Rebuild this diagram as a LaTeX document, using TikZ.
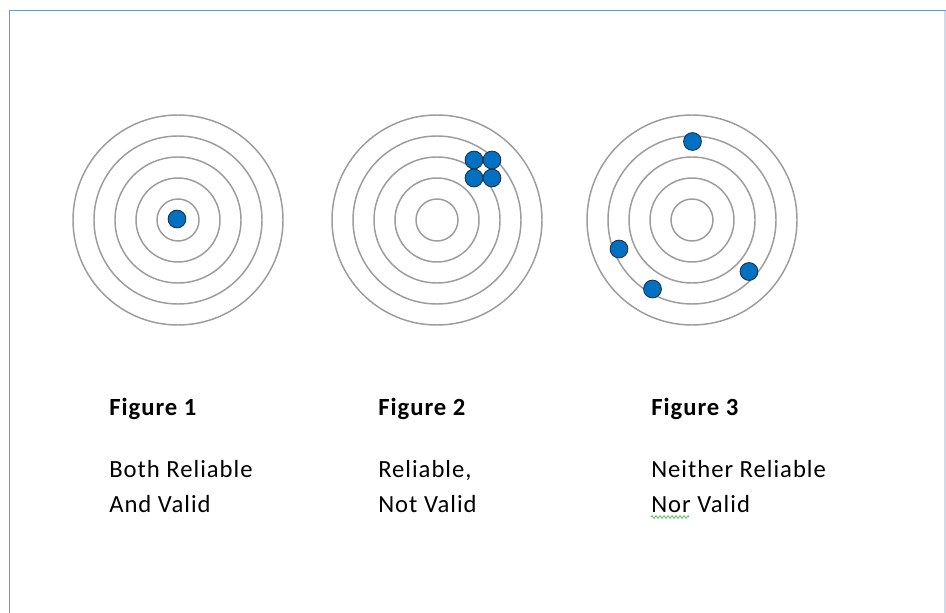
\documentclass[tikz,border=0pt]{standalone}
\usepackage{fontspec}
\setmainfont{Carlito}[LetterSpace=4]
\usepackage{tikz}
\usetikzlibrary{positioning, decorations.pathmorphing}

\definecolor{ringgray}{HTML}{9C9C9C}
\definecolor{shotblue}{HTML}{0070C0}
\definecolor{shotedge}{HTML}{1C2B3F}
\definecolor{pageblue}{HTML}{6F96CF}
\definecolor{pageedge}{HTML}{D3DAE5}
\definecolor{spellgreen}{HTML}{5DB85D}

\begin{document}
\begin{tikzpicture}[x=0.75pt, y=-0.75pt,
                ring/.style={draw=ringgray, line width=1.1pt},
                shot/.style={circle, draw=shotedge, fill=shotblue, line width=0.6pt, minimum size=13.4pt, inner sep=0pt},
                caption/.style={anchor=base west, inner sep=0pt, font=\bfseries\fontsize{18.5}{26}\selectfont},
                verdict/.style={anchor=base west, inner sep=0pt, font=\fontsize{18.5}{26}\selectfont}]

                \useasboundingbox (0,0) rectangle (946,613);

                % page frame
                \draw[pageblue, line width=1pt] (9.5,613) -- (9.5,10.5) -- (946,10.5);
                \draw[pageedge, line width=1pt] (945,11) -- (945,613);

                % target centres
                \coordinate (t1) at (178,220);
                \coordinate (t2) at (437,220);
                \coordinate (t3) at (692,220);

                % rings
                \foreach \t in {t1,t2,t3}
                    \foreach \r in {21,42,63,84,105}
                        \draw[ring] (\t) circle[radius=\r*0.75pt];

                % Figure 1 - centred shot
                \node[shot] (s11) at (177,219) {};

                % Figure 2 - tight group off centre
                \node[shot] (s21) at (474,160) {};
                \node[shot] (s22) at (492,160) {};
                \node[shot] (s23) at (474,178) {};
                \node[shot] (s24) at (492,178) {};

                % Figure 3 - scattered shots
                \node[shot] (s31) at (692.5,141.5) {};
                \node[shot] (s32) at (619,249) {};
                \node[shot] (s33) at (652.5,289) {};
                \node[shot] (s34) at (749,271.5) {};

                % captions
                \node[caption] (cap1) at (109,415) {Figure 1};
                \node[caption] (cap2) at (378,415) {Figure 2};
                \node[caption] (cap3) at (651,415) {Figure 3};

                \node[verdict] (v1a) at (109,477) {Both Reliable};
                \node[verdict] (v1b) at (109,512) {And Valid};
                \node[verdict] (v2a) at (378,477) {Reliable,};
                \node[verdict] (v2b) at (378,512) {Not Valid};
                \node[verdict] (v3a) at (651,477) {Neither Reliable};
                \node[verdict] (v3b) at (651,512) {Nor Valid};

                % spell-check mark under "Nor"
                \draw[spellgreen, line width=0.6pt, decorate, decoration={zigzag, amplitude=1pt, segment length=3pt}]
                    (v3b.base west) ++(0,5) -- ++(38,0);
            \end{tikzpicture}
\end{document}
